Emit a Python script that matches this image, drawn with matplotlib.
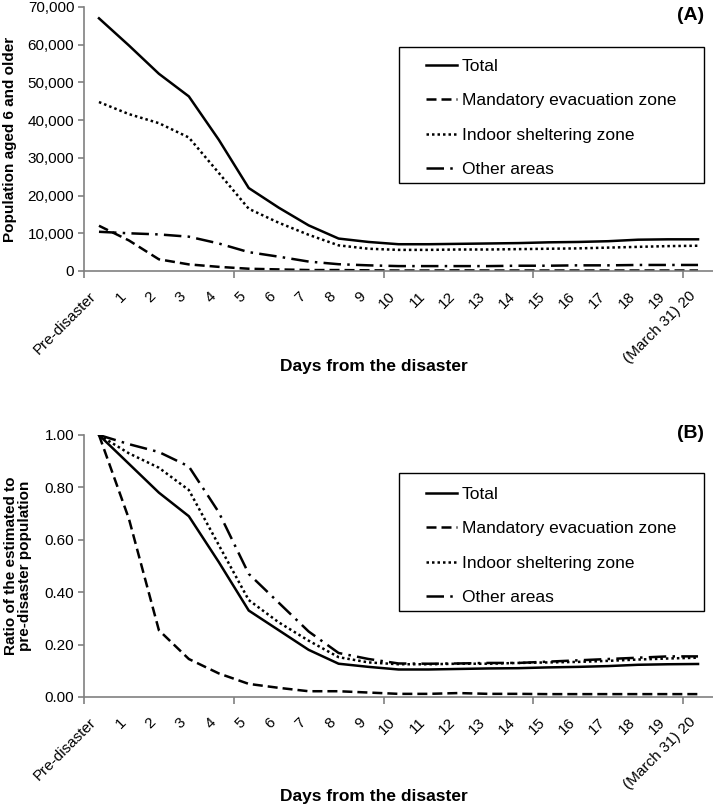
import matplotlib
matplotlib.use("Agg")
import matplotlib.pyplot as plt
import matplotlib.patches as patches
from matplotlib.ticker import StrMethodFormatter
import numpy as np

plt.rcParams['font.family'] = ['Liberation Sans', 'DejaVu Sans']

days = ["Pre-disaster"] + [str(d) for d in range(1, 20)] + ["(March 31) 20"]
series_names = ["Total", "Mandatory evacuation zone", "Indoor sheltering zone", "Other areas"]

# panel A: population aged 6 and older
pop_total = [67000, 59800, 52300, 46300, 34800, 22000, 16800, 12100, 8600, 7700, 7100,
             7100, 7200, 7300, 7400, 7600, 7700, 7900, 8300, 8400, 8400]
pop_mandatory = [12000, 8100, 3100, 1750, 1100, 600, 420, 250, 250, 180, 130,
                 130, 170, 130, 130, 130, 130, 130, 130, 130, 130]
pop_indoor = [44800, 41600, 39200, 35400, 26000, 16500, 12800, 9600, 6800, 5900, 5600,
              5600, 5700, 5700, 5800, 5900, 6000, 6200, 6400, 6600, 6700]
pop_other = [10400, 10000, 9700, 9100, 7300, 5000, 3800, 2500, 1800, 1500, 1300,
             1300, 1300, 1300, 1400, 1400, 1500, 1500, 1600, 1600, 1600]

# panel B: ratio to pre-disaster population
ratio_total = [1.0, 0.89, 0.78, 0.69, 0.515, 0.33, 0.255, 0.18, 0.127, 0.115, 0.105,
               0.105, 0.107, 0.109, 0.11, 0.113, 0.115, 0.118, 0.123, 0.125, 0.126]
ratio_mandatory = [1.0, 0.68, 0.255, 0.145, 0.09, 0.05, 0.035, 0.022, 0.022, 0.017, 0.012,
                   0.012, 0.015, 0.012, 0.012, 0.011, 0.011, 0.011, 0.011, 0.011, 0.011]
ratio_indoor = [1.0, 0.93, 0.875, 0.79, 0.58, 0.37, 0.285, 0.215, 0.152, 0.132, 0.125,
                0.125, 0.127, 0.127, 0.13, 0.132, 0.134, 0.138, 0.143, 0.147, 0.15]
ratio_other = [1.0, 0.965, 0.935, 0.88, 0.705, 0.47, 0.36, 0.25, 0.168, 0.145, 0.128,
               0.127, 0.128, 0.13, 0.13, 0.135, 0.14, 0.145, 0.15, 0.155, 0.155]

styles = [dict(ls='-', lw=1.8),
          dict(ls=(0, (4, 2)), lw=1.8),
          dict(ls=(0, (1, 1.2)), lw=1.8),
          dict(ls=(0, (7, 2.5, 1, 2.5)), lw=1.8)]

W, H = 713, 807
fig = plt.figure(figsize=(W / 100, H / 100), dpi=100)
axA = fig.add_axes([84 / W, 1 - 271 / H, 629 / W, 264 / H])
axB = fig.add_axes([84 / W, 1 - 697 / H, 629 / W, 262 / H])

x = np.arange(len(days))
spine_col = '#808080'


def style_axis(ax):
    for s in ['top', 'right']:
        ax.spines[s].set_visible(False)
    for s in ['left', 'bottom']:
        ax.spines[s].set_color(spine_col)
        ax.spines[s].set_linewidth(1.2)
    ax.set_xlim(-0.5, 20.5)
    ax.set_xticks(x, days, rotation=45, ha='right', va='top')
    ax.set_xticks(np.arange(-0.5, 20, 5), minor=True)
    ax.tick_params(axis='x', which='major', length=0, pad=13, labelsize=11)
    ax.tick_params(axis='x', which='minor', length=5, color=spine_col, width=1.2)
    ax.tick_params(axis='y', length=4, color=spine_col, width=1.2, labelsize=11, pad=3)


for vals, st, name in zip([pop_total, pop_mandatory, pop_indoor, pop_other], styles, series_names):
    axA.plot(x, vals, color='black', label=name, **st)
axA.set_ylim(0, 70000)
axA.set_yticks(np.arange(0, 70001, 10000))
axA.yaxis.set_major_formatter(StrMethodFormatter('{x:,.0f}'))
style_axis(axA)

for vals, st, name in zip([ratio_total, ratio_mandatory, ratio_indoor, ratio_other], styles, series_names):
    axB.plot(x, vals, color='black', label=name, **st)
axB.set_ylim(0, 1.0)
axB.set_yticks(np.arange(0, 1.01, 0.2))
axB.yaxis.set_major_formatter(StrMethodFormatter('{x:.2f}'))
style_axis(axB)

for ax, cy, box in [(axA, 118, (47, 183)), (axB, 546, (473, 611))]:
    ax.legend(loc='center', bbox_to_anchor=(551 / W, 1 - cy / H), bbox_transform=fig.transFigure,
              frameon=False, fontsize=12.5, borderpad=0, handlelength=1.8, handletextpad=0.3,
              labelspacing=1.1)
    fig.add_artist(patches.Rectangle((399 / W, 1 - box[1] / H), 305 / W, (box[1] - box[0]) / H,
                                     transform=fig.transFigure, fill=False, edgecolor='black', lw=1))

fig.text(10 / W, 1 - 139 / H, "Population aged 6 and older", rotation=90, ha='center', va='center',
         fontsize=11, fontweight='bold')
fig.text(18 / W, 1 - 566 / H, "Ratio of the estimated to\npre-disaster population", rotation=90,
         ha='center', va='center', fontsize=11, fontweight='bold', linespacing=1.0)
fig.text(374 / W, 1 - 367 / H, "Days from the disaster", ha='center', va='center', fontsize=12.5,
         fontweight='bold')
fig.text(374 / W, 1 - 796 / H, "Days from the disaster", ha='center', va='center', fontsize=12.5,
         fontweight='bold')
fig.text(704 / W, 1 - 15 / H, "(A)", ha='right', va='center', fontsize=14, fontweight='bold')
fig.text(704 / W, 1 - 433 / H, "(B)", ha='right', va='center', fontsize=14, fontweight='bold')

fig.savefig("out.png", dpi=100)
